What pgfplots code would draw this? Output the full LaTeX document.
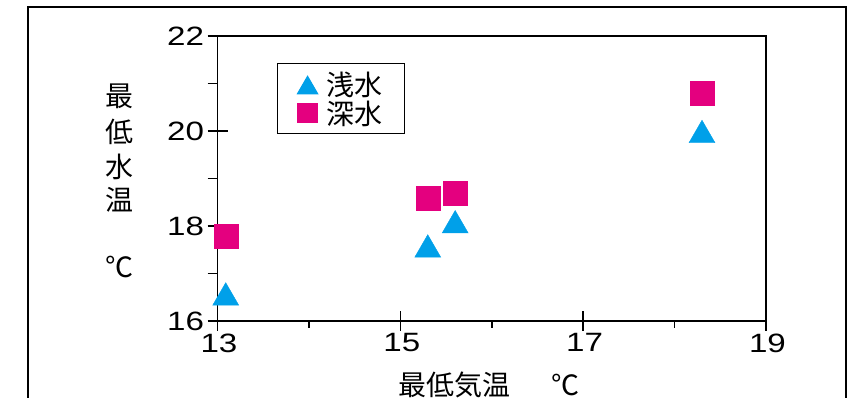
\documentclass[border=0pt]{standalone}
\usepackage{pgfplots}
\pgfplotsset{compat=1.18}
\usepackage{fontspec}
\setmainfont{Liberation Sans}
\newfontfamily\tickfont{Liberation Sans}[FakeStretch=1.25]
\newfontfamily\jp{Noto Sans CJK JP}
\definecolor{cy}{HTML}{00A0E9}
\definecolor{mg}{HTML}{E4007F}
\begin{document}
\begin{tikzpicture}[x=1pt,y=1pt]
\begin{axis}[scale only axis,
  width=548.5pt, height=285pt,
  xmin=13, xmax=19, ymin=16, ymax=22, clip=false,
  xtick={13,15,17,19}, ytick={16,18,20,22},
  extra x ticks={14,16,18}, extra x tick labels={},
  extra x tick style={tick align=outside, major tick length=7},
  extra y ticks={17,19,21}, extra y tick labels={},
  extra y tick style={tick align=outside, major tick length=10},
  tick align=center, major tick length=20,
  xtick pos=bottom, ytick pos=left,
  axis line style={line width=1.5},
  tick style={line width=1.5, black},
  ticklabel style={font=\tickfont\fontsize{26.5}{26.5}\selectfont},
  xticklabel style={yshift=1pt, xshift=1.5pt},
  /pgf/number format/assume math mode=true,
  legend style={at={(0.1085,0.905)}, anchor=north west, draw=black, line width=1.2,
    font=\jp\fontsize{28}{30}\selectfont, row sep=0pt, inner xsep=20pt, inner ysep=6pt,
    cells={anchor=west}},
]
\addplot[only marks, mark=triangle*, color=cy, mark size=15, mark options={yshift=-3.75},
  legend image post style={mark size=11.5}]
  coordinates {(13.09,16.57) (15.30,17.58) (15.60,18.09) (18.30,19.99)};
\addlegendentry{\hspace{7pt}浅水\hspace{3pt}}
\addplot[only marks, mark=square*, color=mg, mark size=12,
  legend image post style={mark size=9.5}]
  coordinates {(13.09,17.79) (15.30,18.58) (15.60,18.68) (18.30,20.80)};
\addlegendentry{\hspace{7pt}深水\hspace{3pt}}
\coordinate (O) at (rel axis cs:0,0);
\end{axis}
\pgfresetboundingbox
\begin{scope}[shift={(O)}, shift={(-217.5,-77)}]
\useasboundingbox (0,0) rectangle (853,398);
\draw[line width=2] (28,-20) rectangle (845.5,391);
\begin{scope}[font=\jp\fontsize{28}{30}\selectfont]
\node at (120,302) {最};
\node at (120,266) {低};
\node at (120,231) {水};
\node at (120,198) {温};
\node at (120,131) {℃};
\node at (454,13) {最低気温};
\node at (565,13) {℃};
\end{scope}
\end{scope}
\end{tikzpicture}
\end{document}
